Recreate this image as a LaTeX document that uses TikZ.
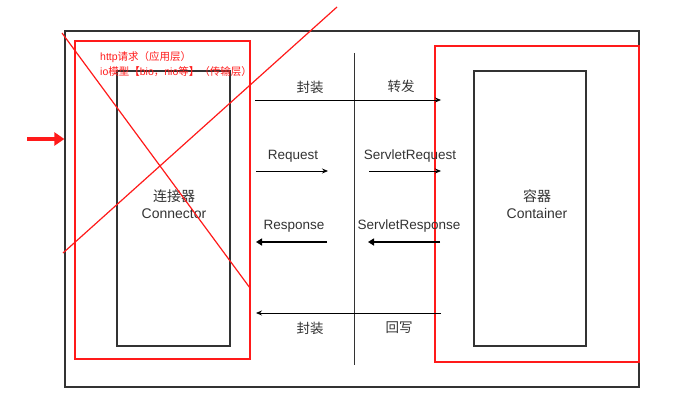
\documentclass[tikz,border=0pt]{standalone}
\usepackage{fontspec}
\setmainfont{Liberation Sans}
\newfontfamily\cjk{Noto Sans CJK SC}
\usepackage{xcolor}
\usetikzlibrary{arrows.meta,positioning}

\definecolor{inkgray}{HTML}{333333}
\definecolor{markred}{HTML}{FF1A1A}

\begin{document}
\begin{tikzpicture}[
    x=1pt, y=-1pt,
    frame/.style={draw=inkgray, line width=1.3pt, inner sep=0pt},
    redframe/.style={draw=markred, line width=1.4pt, inner sep=0pt},
    part/.style={draw=inkgray, line width=1.2pt, inner sep=0pt,
                 align=center, text=inkgray,
                 font=\fontsize{14}{17}\selectfont},
    lbl/.style={text=inkgray, font=\fontsize{13.5}{15}\selectfont, inner sep=0pt},
    arr/.style={-{Stealth[length=6pt,width=5pt]}, line width=0.8pt, draw=black},
    fatarr/.style={-{Triangle[length=6pt,width=7pt]}, line width=2pt, draw=black},
    note/.style={text=markred, font=\fontsize{10.5}{15}\selectfont,
                 align=left, anchor=north west, inner sep=0pt}
]
\useasboundingbox (0,0) rectangle (684,401);

% ── Frames ──
\node[frame, minimum width=574pt, minimum height=356pt] (outer) at (352,209) {};
\node[redframe, minimum width=175pt, minimum height=318pt] (connred) at (162.5,200) {};
\node[redframe, minimum width=204pt, minimum height=316pt] (contred) at (537,204) {};

% ── Connector / Container ──
\node[part, minimum width=113pt, minimum height=275pt] (conn) at (173.5,208.5) {};
\node[part, draw=none] (connlabel) at (174,204) {{\cjk 连接器}\\Connector};
\node[part, minimum width=112pt, minimum height=275pt] (cont) at (530,208.5) {};
\node[part, draw=none] (contlabel) at (537,204) {{\cjk 容器}\\Container};

% ── Divider ──
\coordinate (divtop) at (354,53);
\coordinate (divbot) at (354,365);
\draw[inkgray, line width=1pt] (divtop) -- (divbot);

% ── Request path ──
\coordinate (reqA) at (255,100);
\coordinate (reqB) at (441,100);
\draw[arr] (reqA) -- (reqB);
\node[lbl] (wrapin) at (310,87) {\cjk 封装};
\node[lbl] (forward) at (401,86) {\cjk 转发};

\coordinate (rqA) at (256,171);
\coordinate (rqB) at (328,171);
\coordinate (srqA) at (369,171);
\coordinate (srqB) at (441,171);
\draw[arr] (rqA) -- (rqB);
\draw[arr] (srqA) -- (srqB);
\node[lbl] (request) at (293,156) {Request};
\node[lbl] (srequest) at (410,156) {ServletRequest};

% ── Response path ──
\coordinate (rsA) at (327,242);
\coordinate (rsB) at (256,242);
\coordinate (srsA) at (440,242);
\coordinate (srsB) at (368,242);
\draw[fatarr] (rsA) -- (rsB);
\draw[fatarr] (srsA) -- (srsB);
\node[lbl] (response) at (294,226) {Response};
\node[lbl] (sresponse) at (409,226) {ServletResponse};

\coordinate (backA) at (441,313);
\coordinate (backB) at (256,313);
\draw[arr] (backA) -- (backB);
\node[lbl] (wrapout) at (310,328) {\cjk 封装};
\node[lbl] (writeback) at (399,328) {\cjk 回写};

% ── Red marks ──
\node[note] (layers) at (100,51)
    {http{\cjk 请求（应用层）}\\io{\cjk 模型【}bio{\cjk ，}nio{\cjk 等】（传输层）}};
\coordinate (crossA) at (62,33);
\coordinate (crossB) at (250,288);
\coordinate (crossC) at (337,7);
\coordinate (crossD) at (63,253);
\draw[markred, line width=1.2pt] (crossA) -- (crossB);
\draw[markred, line width=1.2pt] (crossC) -- (crossD);
\coordinate (entry) at (27,139);
\draw[markred, line width=3.5pt, -{Triangle[length=10pt,width=13pt]}]
    (entry) -- (outer.west |- entry);

\end{tikzpicture}
\end{document}
